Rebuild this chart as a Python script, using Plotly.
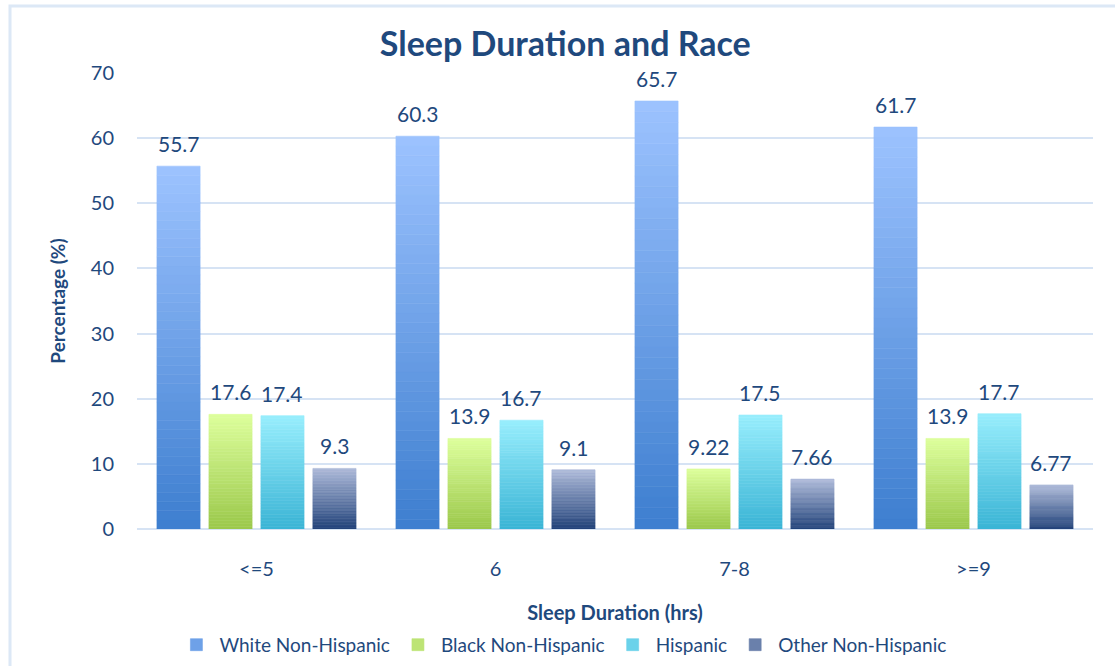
import plotly.graph_objects as go

# Data
categories = ["<=5", "6", "7-8", ">=9"]
series_names = ["White Non-Hispanic", "Black Non-Hispanic", "Hispanic", "Other Non-Hispanic"]
white = [55.7, 60.3, 65.7, 61.7]
black = [17.6, 13.9, 9.22, 13.9]
hispanic = [17.4, 16.7, 17.5, 17.7]
other = [9.3, 9.1, 7.66, 6.77]
series_values = [white, black, hispanic, other]
y_ticks = [0, 10, 20, 30, 40, 50, 60, 70]

# Gradient end colours (top, bottom) for each series
gradients = [
    ("#9DC3FF", "#3D7ECF"),
    ("#DDFF9C", "#9BC84B"),
    ("#98EEFD", "#3AB4D5"),
    ("#AEBBD9", "#22427A"),
]

TEXT = "#1F497D"
FONT = "Lato"
N_SEG = 40
BARGAP = 0.13
GROUPGAP = 0.17


def hex_to_rgb(h):
    h = h.lstrip("#")
    return tuple(int(h[i:i + 2], 16) for i in (0, 2, 4))


def blend(c_top, c_bot, t):
    a = hex_to_rgb(c_top)
    b = hex_to_rgb(c_bot)
    r = [round(b[i] + (a[i] - b[i]) * t) for i in range(3)]
    return "rgb({},{},{})".format(*r)


fig = go.Figure()
x_idx = list(range(len(categories)))

# Each bar is built from thin stacked slices to give a vertical colour gradient
for j, (name, vals) in enumerate(zip(series_names, series_values)):
    top, bot = gradients[j]
    for k in range(N_SEG):
        t = (k + 0.5) / N_SEG
        col = blend(top, bot, t)
        fig.add_trace(go.Bar(
            x=x_idx,
            y=[v / N_SEG for v in vals],
            base=[v * k / N_SEG for v in vals],
            offsetgroup=str(j),
            marker=dict(color=col, line=dict(width=0.6, color=col)),
            name=name,
            legendgroup=name,
            showlegend=(k == N_SEG // 2),
            legendrank=j + 1,
            hoverinfo="skip",
        ))

# Value labels above each bar
n_series = len(series_names)
slot = (1 - BARGAP) / n_series
annotations = []
for j, vals in enumerate(series_values):
    off = -(1 - BARGAP) / 2 + slot * (j + 0.5)
    for i, v in enumerate(vals):
        annotations.append(dict(
            x=i + off, y=v, xref="x", yref="y",
            text=f"{v:g}", showarrow=False,
            yanchor="bottom", yshift=8,
            font=dict(family=FONT, size=21, color=TEXT),
        ))

fig.update_layout(
    width=1115, height=666,
    margin=dict(l=137, r=22, t=73, b=137, autoexpand=False),
    paper_bgcolor="white", plot_bgcolor="white",
    barmode="group", bargap=BARGAP, bargroupgap=GROUPGAP,
    font=dict(family=FONT, color=TEXT),
    title=dict(
        text="<b>Sleep Duration and Race</b>",
        x=0.507, xanchor="center", y=0.934, yanchor="middle",
        font=dict(family=FONT, size=34, color=TEXT),
    ),
    xaxis=dict(
        tickmode="array", tickvals=x_idx, ticktext=categories,
        range=[-0.5, len(categories) - 0.5],
        showgrid=False, ticks="", showline=False, zeroline=False,
        tickfont=dict(family=FONT, size=20, color=TEXT),
        ticklabelstandoff=26, automargin=False,
        title=dict(text="<b>Sleep Duration (hrs)</b>", standoff=26,
                   font=dict(family=FONT, size=20, color=TEXT)),
    ),
    yaxis=dict(
        range=[0, 70], tickvals=y_ticks,
        showgrid=True, gridcolor="#D6E3F4", gridwidth=2,
        zeroline=True, zerolinecolor="#D6E3F4", zerolinewidth=2,
        ticks="", showline=False,
        tickfont=dict(family=FONT, size=20, color=TEXT),
        ticklabelstandoff=22, automargin=False,
        title=dict(text="<b>Percentage (%)</b>", standoff=20,
                   font=dict(family=FONT, size=19, color=TEXT)),
    ),
    legend=dict(
        orientation="h", x=0.445, xanchor="center", y=-0.254, yanchor="middle",
        font=dict(family=FONT, size=19, color=TEXT),
        itemwidth=36, tracegroupgap=0,
    ),
    annotations=annotations,
    shapes=[dict(
        type="rect", xref="paper", yref="paper",
        x0=(10 - 137) / 956, x1=1.06, y0=-0.35, y1=(529 - 6) / 456,
        line=dict(color="#DCE8F6", width=3), fillcolor="rgba(0,0,0,0)",
        layer="below",
    )],
)

fig.write_html("out.html")
